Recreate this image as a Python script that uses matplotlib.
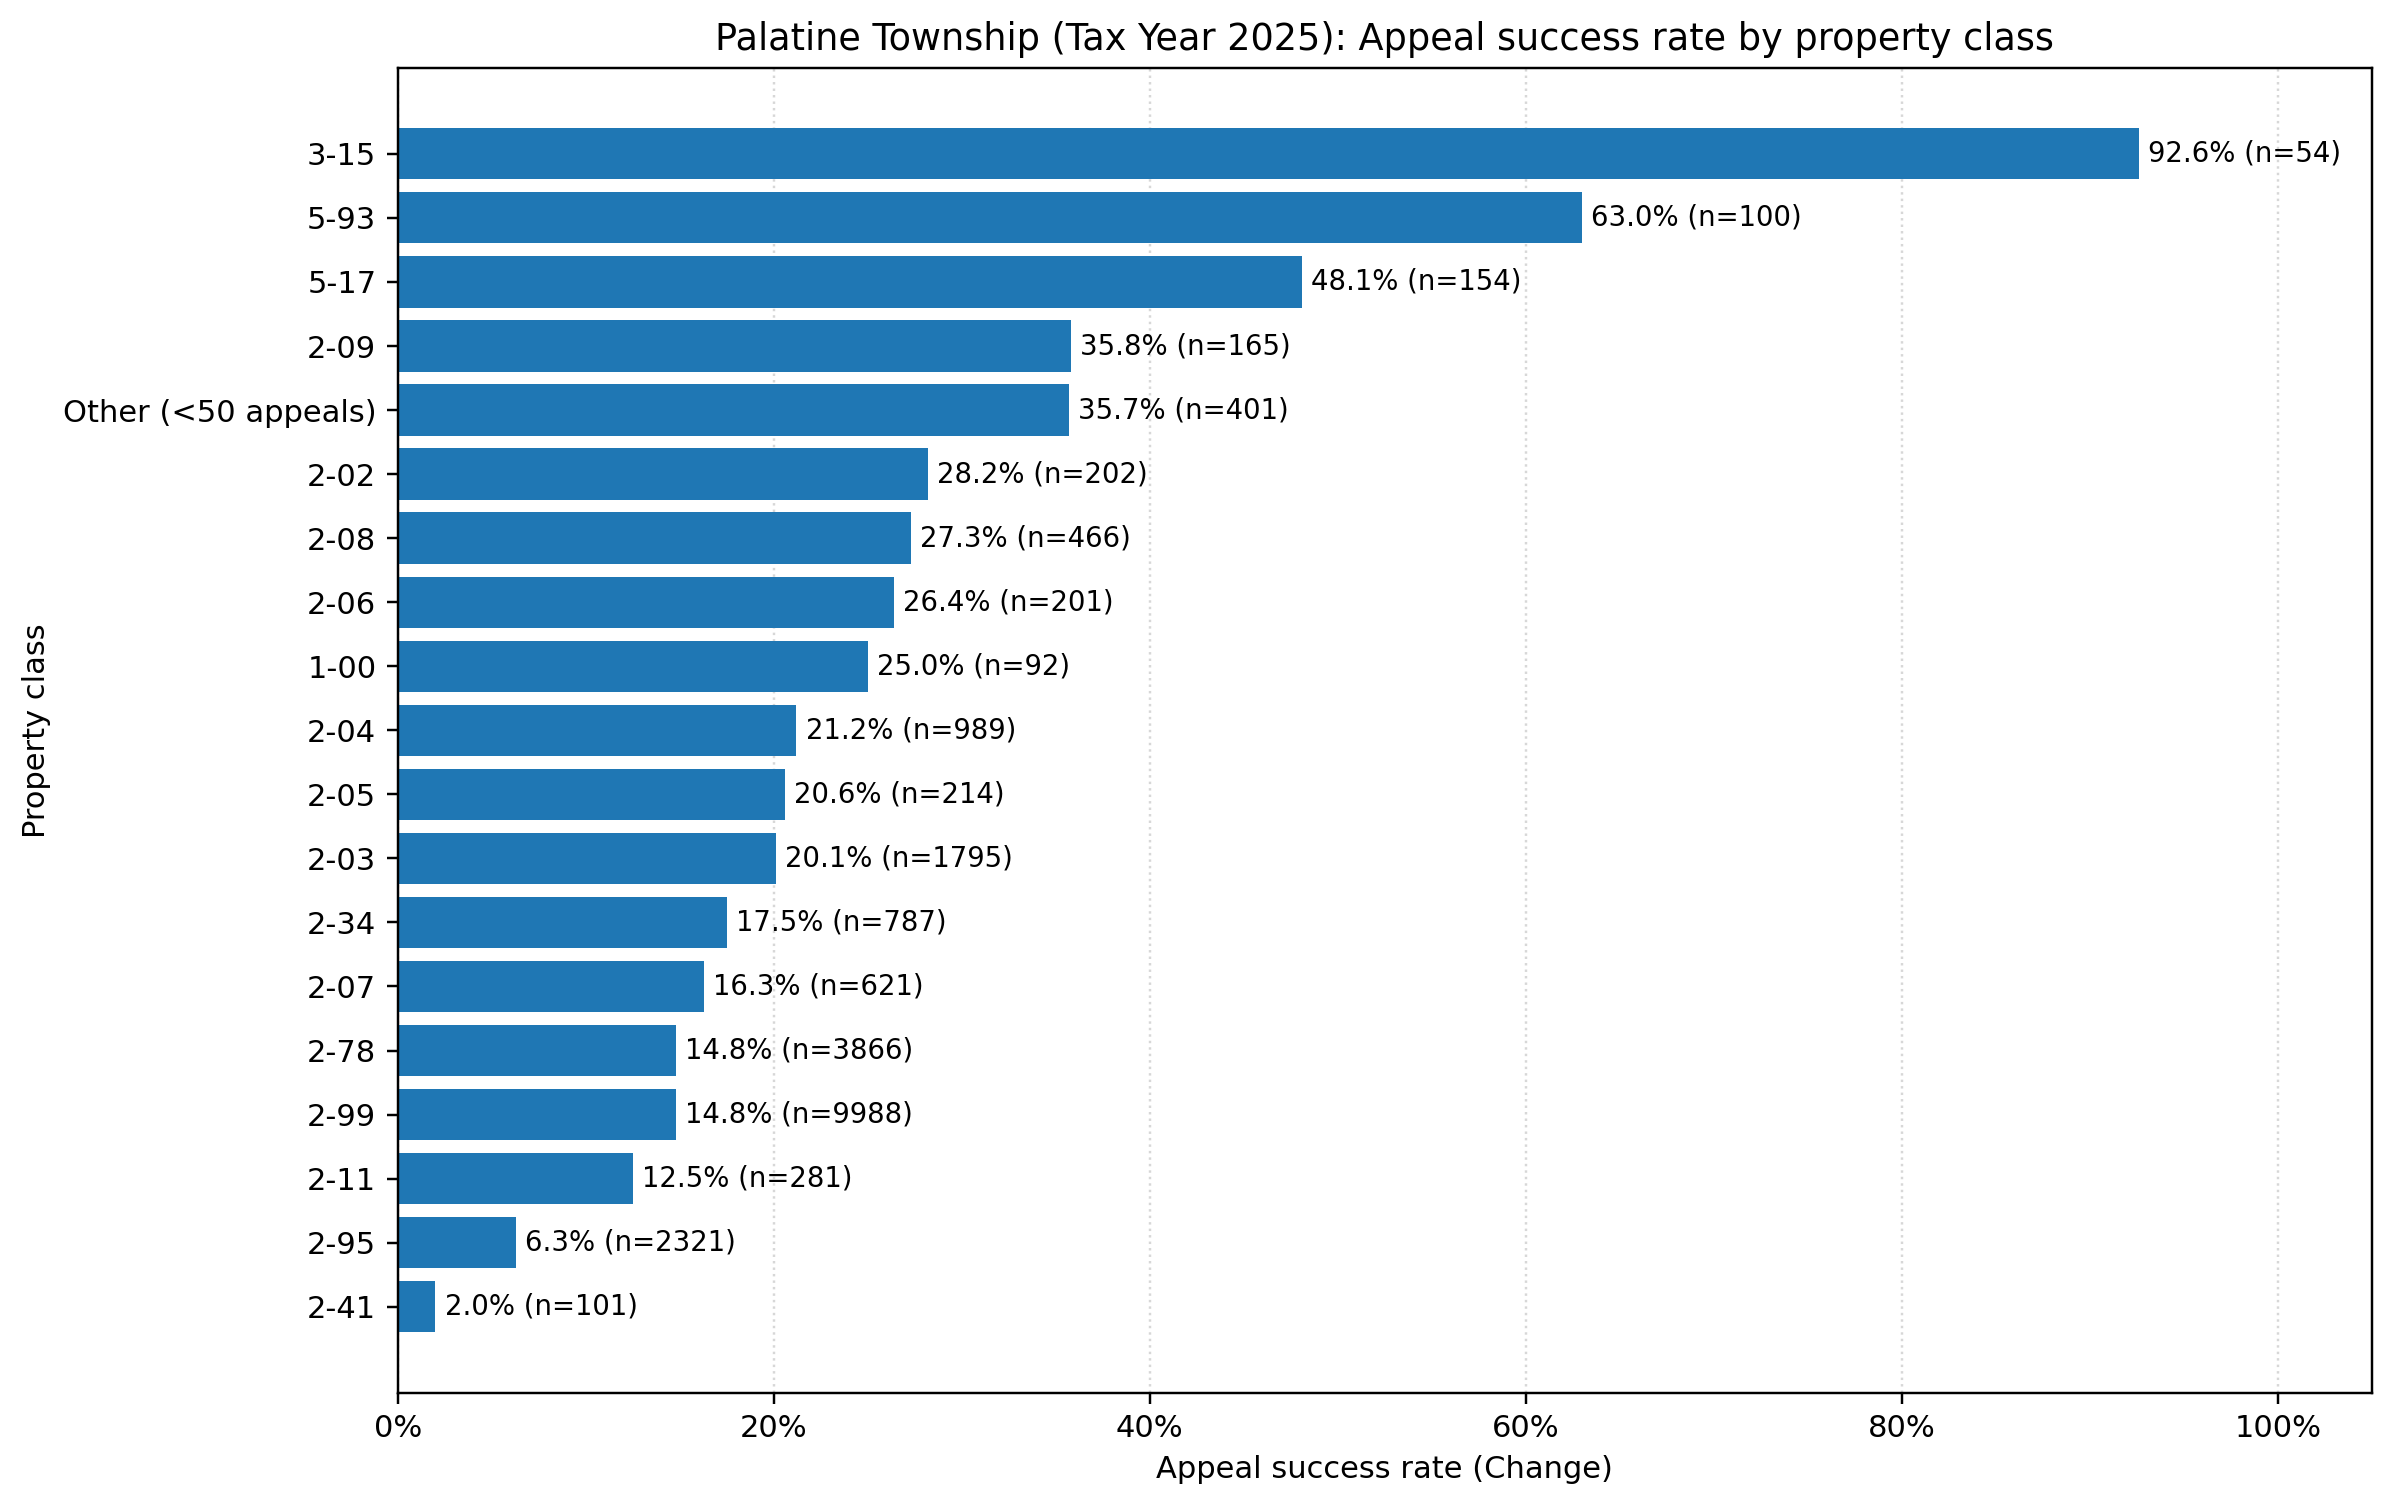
import matplotlib
matplotlib.use("Agg")
import matplotlib.pyplot as plt
from matplotlib.ticker import PercentFormatter

classes = ["3-15", "5-93", "5-17", "2-09", "Other (<50 appeals)", "2-02", "2-08",
           "2-06", "1-00", "2-04", "2-05", "2-03", "2-34", "2-07", "2-78", "2-99",
           "2-11", "2-95", "2-41"]
rates = [0.926, 0.630, 0.481, 0.358, 0.357, 0.282, 0.273, 0.264, 0.250, 0.212,
         0.206, 0.201, 0.175, 0.163, 0.148, 0.148, 0.125, 0.063, 0.020]
counts = [54, 100, 154, 165, 401, 202, 466, 201, 92, 989, 214, 1795, 787, 621,
          3866, 9988, 281, 2321, 101]

fig, ax = plt.subplots(figsize=(10.891, 6.873), dpi=220)
ypos = list(range(len(classes)))[::-1]
bars = ax.barh(ypos, rates, color="#1f77b4")
ax.set_yticks(ypos)
ax.set_yticklabels(classes)

for y, r, n in zip(ypos, rates, counts):
    ax.annotate(f"{r*100:.1f}% (n={n})", xy=(r, y), xytext=(3, 0),
                textcoords="offset points", va="center", ha="left", fontsize=9)

ax.set_xlim(0, 1.05)
ax.xaxis.set_major_formatter(PercentFormatter(1.0, decimals=0))
ax.grid(axis="x", linestyle=":", alpha=0.5)
ax.set_axisbelow(True)
ax.set_xlabel("Appeal success rate (Change)")
ax.set_ylabel("Property class")
ax.set_title("Palatine Township (Tax Year 2025): Appeal success rate by property class")
plt.subplots_adjust(left=0.166, right=0.990, top=0.955, bottom=0.079)
fig.savefig("out.png")
